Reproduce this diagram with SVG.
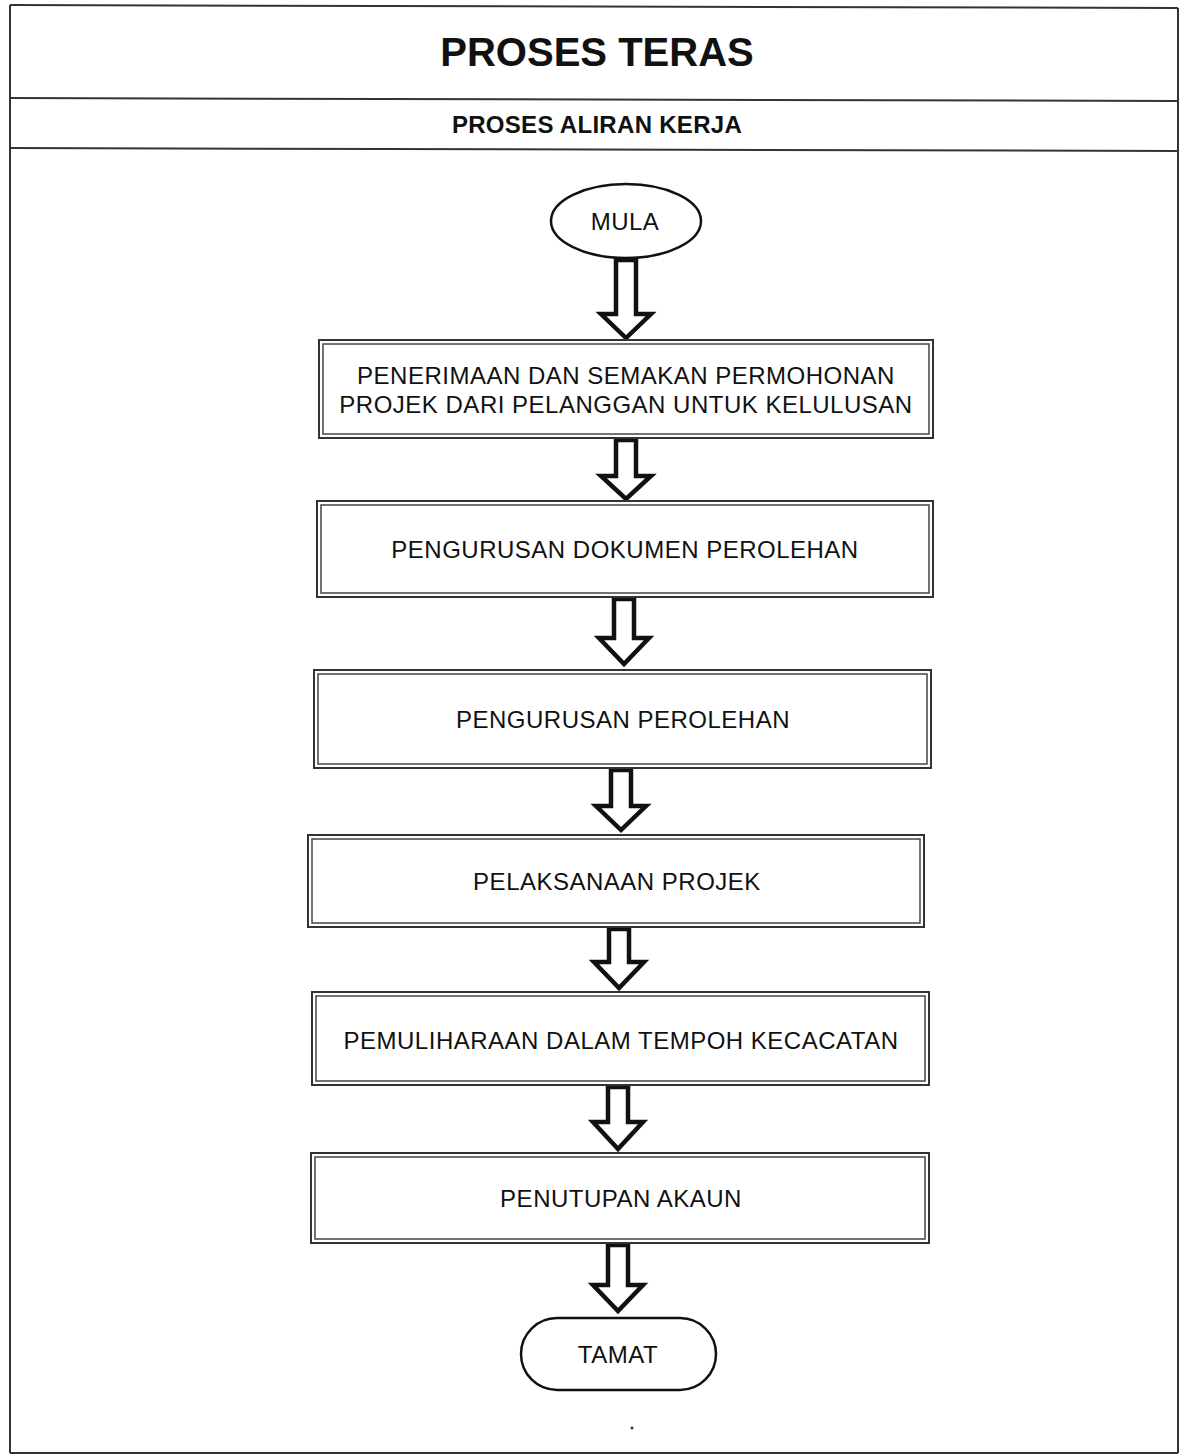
<svg xmlns="http://www.w3.org/2000/svg" width="1180" height="1455" viewBox="0 0 1180 1455">
<style>
.frame{fill:none;stroke:#333;stroke-width:2}
.outer{fill:#fff;stroke:#333;stroke-width:2}
.inner{fill:none;stroke:#444;stroke-width:1.5}
.arrow{fill:#fff;stroke:#111;stroke-width:4.5;stroke-linejoin:miter}
.t{font-family:"Liberation Sans",Arial,sans-serif;font-size:24px;letter-spacing:0.5px;fill:#111;text-anchor:middle}
.title{font-family:"Liberation Sans",Arial,sans-serif;font-weight:bold;font-size:40px;fill:#111;text-anchor:middle}
.sub{font-family:"Liberation Sans",Arial,sans-serif;font-weight:bold;font-size:24px;letter-spacing:0.3px;fill:#111;text-anchor:middle}
</style>
<rect x="0" y="0" width="1180" height="1455" fill="#fff"/>
<g id="frame">
<line class="frame" x1="10" y1="5" x2="1178" y2="8"/>
<line class="frame" x1="10" y1="5" x2="10" y2="1453"/>
<line class="frame" x1="1178" y1="8" x2="1178" y2="1453"/>
<line class="frame" x1="10" y1="1453" x2="1178" y2="1453"/>
<line class="frame" x1="10" y1="98" x2="1178" y2="101"/>
<line class="frame" x1="10" y1="148" x2="1178" y2="151"/>
<text class="title" x="597" y="66">PROSES TERAS</text>
<text class="sub" x="597" y="133">PROSES ALIRAN KERJA</text>
</g>
<g id="connectors">
<polygon class="arrow" points="616,260 636,260 636,314 651,314 626,338 601,314 616,314"/>
<polygon class="arrow" points="616,440 636,440 636,476 651,476 626,499 601,476 616,476"/>
<polygon class="arrow" points="614,599 634,599 634,638 649,638 624,664 599,638 614,638"/>
<polygon class="arrow" points="611,770 631,770 631,806 646,806 621,830 596,806 611,806"/>
<polygon class="arrow" points="609,929 629,929 629,962 644,962 619,988 594,962 609,962"/>
<polygon class="arrow" points="608,1087 628,1087 628,1122 643,1122 618,1149 593,1122 608,1122"/>
<polygon class="arrow" points="608,1245 628,1245 628,1285 643,1285 618,1311 593,1285 608,1285"/>
</g>
<g id="mula">
<ellipse cx="626" cy="221" rx="75" ry="37" fill="#fff" stroke="#111" stroke-width="2.5"/>
<text class="t" x="625" y="230">MULA</text>
</g>
<g id="node1">
<rect class="outer" x="319" y="340" width="614" height="98"/>
<rect class="inner" x="323" y="344" width="606" height="90"/>
<text class="t" x="626" y="384">PENERIMAAN DAN SEMAKAN PERMOHONAN</text>
<text class="t" x="626" y="413">PROJEK DARI PELANGGAN UNTUK KELULUSAN</text>
</g>
<g id="node2">
<rect class="outer" x="317" y="501" width="616" height="96"/>
<rect class="inner" x="321" y="505" width="608" height="88"/>
<text class="t" x="625" y="558">PENGURUSAN DOKUMEN PEROLEHAN</text>
</g>
<g id="node3">
<rect class="outer" x="314" y="670" width="617" height="98"/>
<rect class="inner" x="318" y="674" width="609" height="90"/>
<text class="t" x="623" y="728">PENGURUSAN PEROLEHAN</text>
</g>
<g id="node4">
<rect class="outer" x="308" y="835" width="616" height="92"/>
<rect class="inner" x="312" y="839" width="608" height="84"/>
<text class="t" x="617" y="890">PELAKSANAAN PROJEK</text>
</g>
<g id="node5">
<rect class="outer" x="312" y="992" width="617" height="93"/>
<rect class="inner" x="316" y="996" width="609" height="85"/>
<text class="t" x="621" y="1049">PEMULIHARAAN DALAM TEMPOH KECACATAN</text>
</g>
<g id="node6">
<rect class="outer" x="311" y="1153" width="618" height="90"/>
<rect class="inner" x="315" y="1157" width="610" height="82"/>
<text class="t" x="621" y="1207">PENUTUPAN AKAUN</text>
</g>
<g id="tamat">
<rect x="521" y="1318" width="195" height="72" rx="36" ry="36" fill="#fff" stroke="#111" stroke-width="2.5"/>
<text class="t" x="618" y="1363">TAMAT</text>
</g>
<circle cx="632" cy="1428" r="1.5" fill="#333"/>
</svg>
